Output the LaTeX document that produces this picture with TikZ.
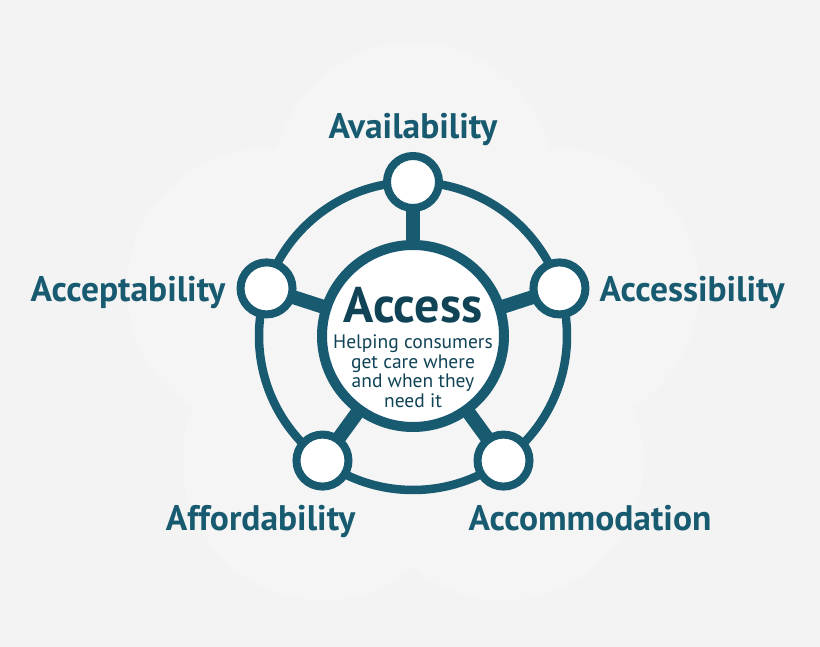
\documentclass[tikz,border=0pt]{standalone}
\usepackage{fontspec}
\setmainfont{PT Sans}
\usetikzlibrary{positioning}
\definecolor{accteal}{HTML}{185B70}
\definecolor{accdark}{HTML}{104356}
\definecolor{bggray}{HTML}{F3F3F3}
\definecolor{halogray}{HTML}{F5F5F5}

\begin{document}
\begin{tikzpicture}[
    x=1pt, y=1pt,
     node distance = 6pt and 10pt,
        dot/.style = {circle, draw=accteal, fill=white, line width=8pt,
                      minimum size=52pt, inner sep=0pt},
        hub/.style = {circle, draw=accteal, fill=white, line width=10pt,
                      minimum size=182pt, inner sep=0pt},
      spoke/.style = {draw=accteal, line width=14pt,
                      shorten <=-3pt, shorten >=-3pt},
       ring/.style = {draw=accteal, line width=8.5pt},
        lbl/.style = {text=accteal, inner sep=0pt,
                      font=\fontsize{35.5}{35.5}\selectfont\bfseries},
                        ]
\fill[bggray] (0,0) rectangle (820,647);
\useasboundingbox (0,0) rectangle (820,647);
\coordinate (c) at (413,311);
% faint halos behind the wheel
\foreach \a in {90,162,234,306,18}
  \fill[halogray] ([shift={(\a:154)}]c) circle (140);
\draw[ring] (c) circle (154);
\node (hub) [hub] at (c) {};
\node (n1) [dot] at ([shift={(90:154)}]c) {};
\node (n2) [dot] at ([shift={(162:154)}]c) {};
\node (n3) [dot] at ([shift={(18:154)}]c) {};
\node (n4) [dot] at ([shift={(234:154)}]c) {};
\node (n5) [dot] at ([shift={(306:154)}]c) {};
\foreach \n in {n1,n2,n3,n4,n5}
  \draw[spoke] (hub) -- (\n);
\node (title) [text=accdark, inner sep=0pt, anchor=base,
               font=\fontsize{50}{50}\selectfont\bfseries]
      at ([yshift=13pt]hub.center) {Access};
\node (sub) [below=11pt of title, text=accdark, inner sep=0pt, align=center,
             font=\fontsize{19.5}{19.5}\selectfont]
      {Helping consumers\\ get care where\\ and when they\\ need it};
\node (avail)  [lbl, above=6pt of n1] {Availability};
\node (accept) [lbl, left=11pt of n2, yshift=-4pt] {Acceptability};
\node (access) [lbl, right=10pt of n3, yshift=-4pt] {Accessibility};
\node (afford) [lbl, below=14pt of n4, anchor=north east, xshift=33pt] {Affordability};
\node (accom)  [lbl, below=14pt of n5, anchor=north west, xshift=-35pt] {Accommodation};
\end{tikzpicture}
\end{document}
